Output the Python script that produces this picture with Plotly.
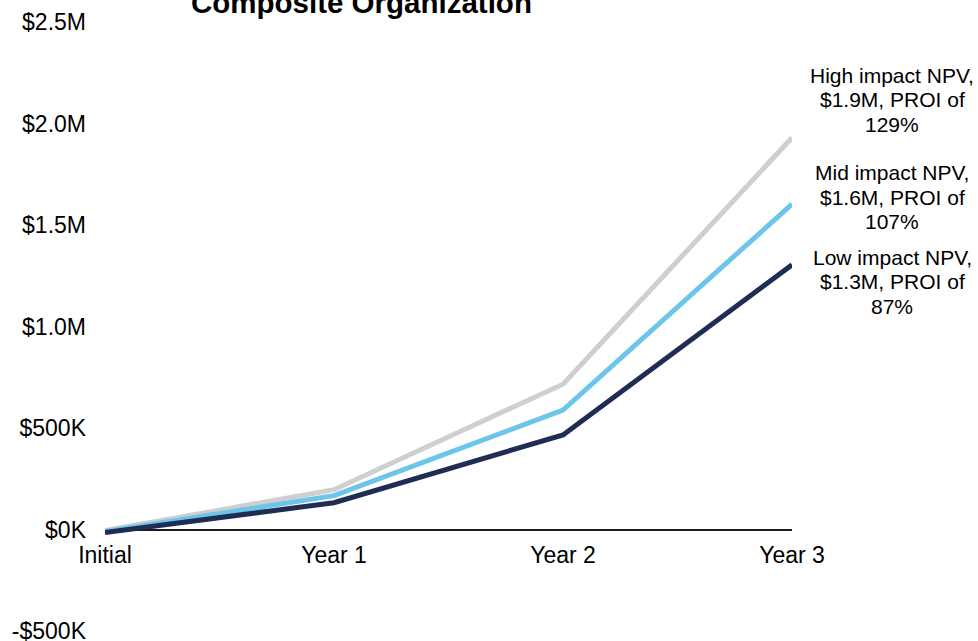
import plotly.graph_objects as go

categories = ["Initial", "Year 1", "Year 2", "Year 3"]
high_impact = [-5000, 196000, 716000, 1930000]
mid_impact = [-10000, 167000, 588000, 1603000]
low_impact = [-15000, 132000, 466000, 1304000]

series_names = ["High impact", "Mid impact", "Low impact"]
series_labels = [
    ["High impact NPV,", "$1.9M, PROI of", "129%"],
    ["Mid impact NPV,", "$1.6M, PROI of", "107%"],
    ["Low impact NPV,", "$1.3M, PROI of", "87%"],
]
label_positions = [2118000, 1637000, 1220000]
colors = ["#CFCFCF", "#6BC6EA", "#1F2D55"]

y_tickvals = [-500000, 0, 500000, 1000000, 1500000, 2000000, 2500000]
y_ticktext = ["-$500K", "$0K", "$500K", "$1.0M", "$1.5M", "$2.0M", "$2.5M"]

x_idx = list(range(len(categories)))
y_min, y_max = -500000, 2500000

fig = go.Figure()
for name, vals, col in zip(series_names, [high_impact, mid_impact, low_impact], colors):
    fig.add_trace(go.Scatter(x=x_idx, y=vals, mode="lines", name=name,
                             line=dict(color=col, width=5), showlegend=False))

font_family = "Liberation Sans, Arial, sans-serif"

line_gap = 24.5
for lines, ypos in zip(series_labels, label_positions):
    yp = (ypos - y_min) / (y_max - y_min)
    n = len(lines)
    for i, t in enumerate(lines):
        fig.add_annotation(x=1.1456, y=yp, xref="paper", yref="paper", text=t,
                           showarrow=False, xanchor="center", yanchor="middle",
                           yshift=((n - 1) / 2 - i) * line_gap,
                           align="center", font=dict(size=21, color="#000000", family=font_family))

fig.add_annotation(x=0.374, y=1.0, xref="paper", yref="paper", text="<b>Composite Organization</b>",
                   showarrow=False, xanchor="center", yanchor="bottom", yshift=0.5,
                   font=dict(size=29.5, color="#000000", family=font_family))

fig.update_layout(
    width=978, height=641,
    margin=dict(l=105, r=186, t=22, b=10, autoexpand=False),
    paper_bgcolor="white", plot_bgcolor="white",
    font=dict(family=font_family, size=23, color="#000000"),
    xaxis=dict(range=[0, 3], tickvals=x_idx, ticktext=categories, showgrid=False,
               zeroline=False, showline=True, linecolor="#1a1a1a", linewidth=2,
               anchor="free", position=(0 - y_min) / (y_max - y_min), ticks="",
               layer="below traces", ticklabelstandoff=5, automargin=False,
               ticklabeloverflow="allow"),
    yaxis=dict(range=[y_min, y_max], tickvals=y_tickvals, ticktext=y_ticktext,
               showgrid=False, zeroline=False, showline=False, ticks="",
               ticklabelstandoff=18, automargin=False, ticklabeloverflow="allow"),
)

fig.write_html("out.html", config={"displayModeBar": False},
               post_script="document.body.style.margin='0';document.body.style.overflow='hidden';")
